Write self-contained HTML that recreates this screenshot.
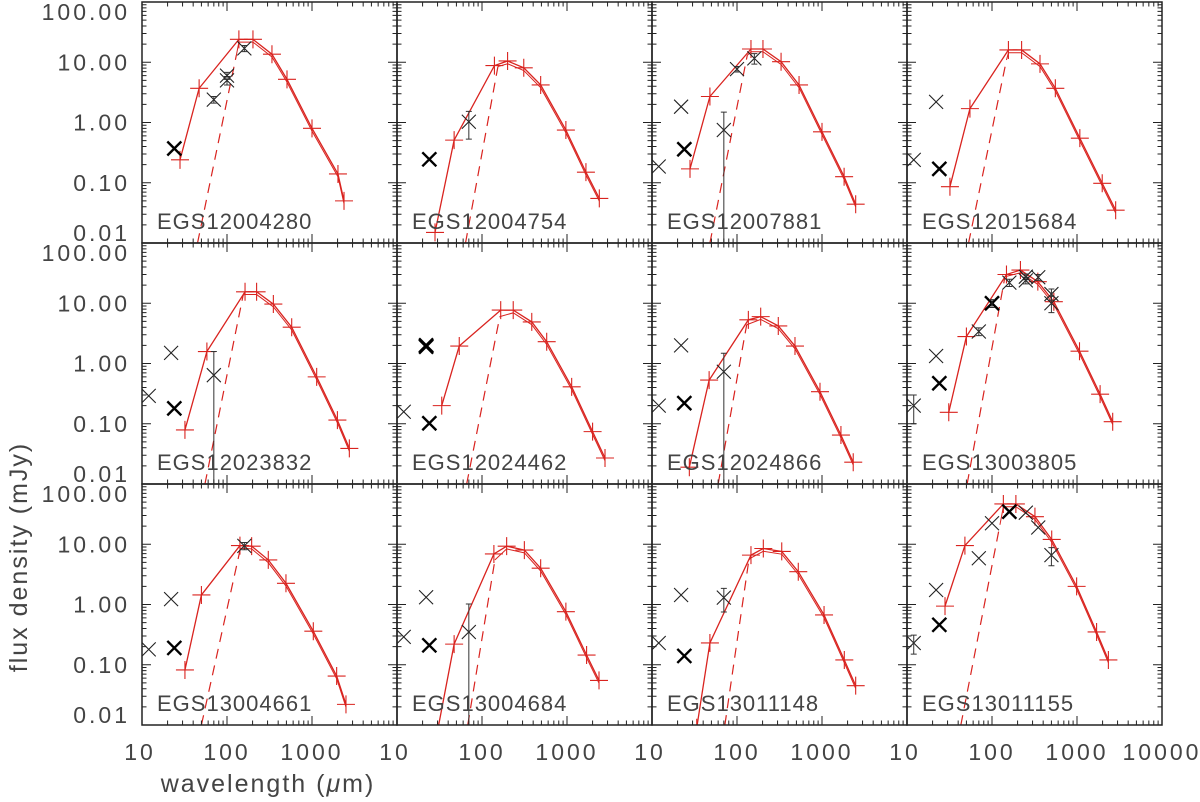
<!DOCTYPE html>
<html><head><meta charset="utf-8"><title>SED fits</title>
<style>
html,body{margin:0;padding:0;background:#fff;width:1200px;height:802px;overflow:hidden;}
svg{display:block;}
text{font-family:"Liberation Sans",sans-serif;fill:#444;}
</style></head>
<body>
<svg id="chart" width="1200" height="802" viewBox="0 0 1200 802" xmlns="http://www.w3.org/2000/svg"></svg>
<script>
// ---- data (wavelength in micron, flux density in mJy) ----
const panelNames = ["EGS12004280","EGS12004754","EGS12007881","EGS12015684",
  "EGS12023832","EGS12024462","EGS12024866","EGS13003805",
  "EGS13004661","EGS13004684","EGS13011148","EGS13011155"];
const modelLam = [
  [28,47,138,202,338,508,1000,2020,2380],
  [28,47,140,200,310,490,970,1670,2400],
  [28,48,146,202,330,537,1000,1820,2490],
  [32,55,156,223,367,556,1080,1980,2850],
  [32,58,163,223,351,577,1135,1990,2750],
  [33.6,54,166,233,385,577,1135,2000,2800],
  [27.5,47,136,190,306,481,947,1670,2330],
  [31,50,148,216,346,534,1070,1870,2630],
  [32,50,142,195,306,494,1036,1950,2510],
  [30,47,138,195,315,490,970,1700,2380],
  [33.6,48,146,204,336,526,1057,1830,2490],
  [28,48,136,191,320,504,990,1700,2340]];
const modelFlux = [
  [0.24,3.7,24,24,13.6,5.2,0.8,0.14,0.05],
  [0.015,0.51,8.8,10.5,8.1,4.2,0.75,0.15,0.055],
  [0.17,2.7,16.6,16.6,10.2,4.2,0.7,0.126,0.044],
  [0.086,1.7,16,16,9.4,3.7,0.55,0.098,0.035],
  [0.079,1.58,15.5,15.5,9.7,4.0,0.6,0.115,0.039],
  [0.2,1.95,7.7,7.7,4.9,2.3,0.41,0.074,0.027],
  [0.019,0.53,5.3,6.0,4.2,1.95,0.34,0.065,0.023],
  [0.155,2.8,30,35.6,22.8,10.6,1.6,0.31,0.108],
  [0.082,1.44,9.5,9.3,5.5,2.25,0.36,0.065,0.022],
  [0.008,0.22,6.9,9.3,8.0,4.0,0.76,0.145,0.055],
  [0.009,0.23,6.6,8.5,7.6,3.5,0.67,0.12,0.045],
  [0.94,9.5,46.6,46.6,28.7,12,2.0,0.35,0.12]];
const coldLam = [[45,129],[64,154],[48,132],[53,148],[55,155],[66,162],[60,130],[51,142],[50,144],[68,142],[72,138],[43,124]];
const coldFlux = [[0.01,13.2],[0.01,8.5],[0.01,13],[0.01,10.9],[0.01,13.7],[0.01,6.0],[0.01,4.4],[0.01,27.5],[0.01,8.6],[0.01,5.5],[0.01,5.5],[0.01,21]];
const obsLam = [
  [24,70,100,100,160],
  [24,70],
  [12,22,24,70,100,160],
  [12,22,24],
  [12,22,24,70],
  [12,22,22,24],
  [12,22,24,70],
  [12,22,24,70,100,160,250,250,350,500,500],
  [12,22,24,160],
  [12,22,24,70],
  [12,22,24,70],
  [12,22,24,70,100,160,250,350,500]];
const obsFlux = [
  [0.37,2.4,5.0,6.0,17],
  [0.245,1.03],
  [0.186,1.83,0.36,0.75,7.7,11.6],
  [0.24,2.2,0.17],
  [0.29,1.5,0.18,0.64],
  [0.158,1.9,2.0,0.102],
  [0.2,2.0,0.22,0.73],
  [0.2,1.33,0.47,3.4,10,22,27.6,24,27,14.2,10],
  [0.18,1.23,0.19,9.4],
  [0.29,1.32,0.21,0.35],
  [0.23,1.44,0.14,1.3],
  [0.23,1.74,0.46,5.85,22.3,34.7,33.4,19,6.6]];
const obsErr = [
  [0,0.3,0.8,0.8,2],
  [0,0.5],
  [0,0,0,0.74,0.8,2.3],
  [0,0,0],
  [0,0,0,0.94],
  [0,0,0,0],
  [0,0,0,0.75],
  [0.1,0,0,0.5,1.5,3,3,3,3,3,3],
  [0,0,0,1.3],
  [0,0,0,0.67],
  [0,0,0,0.55],
  [0.08,0,0,0,0,0,0,0,2.2]];
const obsBold = [
  [1,0,0,0,0],[1,0],[0,0,1,0,0,0],[0,0,1],[0,0,1,0],[0,1,1,1],[0,0,1,0],
  [0,0,1,0,1,0,0,0,0,0,0],[0,0,1,0],[0,0,1,0],[0,0,1,0],[0,0,1,0,0,1,0,0,0]];
const xTickLabels = ["10","100","1000"];
const yTickLabels = ["100.00","10.00","1.00","0.10","0.01"];

const NS = "http://www.w3.org/2000/svg";
const svg = document.getElementById("chart");
const PL = 142, PW = 255, PT = 2, PH = 241;
const XMIN = 1, XMAX = 4, YMIN = -2, YMAX = 2;
const RED = "#d9231f";
function mk(tag, attrs, parent){const e=document.createElementNS(NS,tag);for(const k in attrs)e.setAttribute(k,attrs[k]);(parent||svg).appendChild(e);return e;}
function xS(L,lam){return L+(Math.log10(lam)-XMIN)/(XMAX-XMIN)*PW;}
function yS(T,f){return T+(YMAX-Math.log10(f))/(YMAX-YMIN)*PH;}

const defs = mk("defs",{});
for(let p=0;p<12;p++){
  const col=p%4,row=Math.floor(p/4);
  const L=PL+col*PW, T=PT+row*PH;
  const cp=mk("clipPath",{id:"clip"+p},defs);
  mk("rect",{x:L,y:T,width:PW,height:PH},cp);
}

for(let p=0;p<12;p++){
  const col=p%4,row=Math.floor(p/4);
  const L=PL+col*PW, T=PT+row*PH;
  const g=mk("g",{});
  
  
  const inner=mk("g",{"clip-path":"url(#clip"+p+")"},g);
  const cl=coldLam[p], cf=coldFlux[p];
  const dash=mk("polyline",{points:cl.map((l,i)=>xS(L,l)+","+yS(T,cf[i])).join(" "),fill:"none",stroke:RED,"stroke-width":1.2,"stroke-dasharray":"10,7"},inner);
  
  
  const ml=modelLam[p], mf=modelFlux[p];
  const jl=cl[cl.length-1];
  const tail=[[jl,cf[cf.length-1]]];
  ml.forEach((l,i)=>{if(l>jl*1.05) tail.push([l,mf[i]*0.9]);});
  const tl=mk("polyline",{points:tail.map(d=>xS(L,d[0])+","+(yS(T,d[1]))).join(" "),fill:"none",stroke:RED,"stroke-width":1},inner);
  
  
  const ln=mk("polyline",{points:ml.map((l,i)=>xS(L,l)+","+yS(T,mf[i])).join(" "),fill:"none",stroke:RED,"stroke-width":1.3},inner);
  
  
  ml.forEach((l,i)=>{
    const x=xS(L,l),y=yS(T,mf[i]);
    const m=mk("path",{d:`M${x-9},${y}H${x+9}M${x},${y-9}V${y+9}`,stroke:RED,"stroke-width":1.1,fill:"none"},inner);
    
    
  });
  obsLam[p].forEach((l,i)=>{
    const x=xS(L,l),y=yS(T,obsFlux[p][i]);
    const b=obsBold[p][i], s=7;
    const o=mk("path",{d:`M${x-s},${y-s}L${x+s},${y+s}M${x-s},${y+s}L${x+s},${y-s}`,stroke:b?"#000":"#222","stroke-width":b?2.4:1.1,fill:"none"},inner);
    
    
    const e=obsErr[p][i];
    if(e>0){
      const f=obsFlux[p][i];
      const y1=yS(T,f+e), y2=yS(T,Math.max(f-e,0.005));
      const eb=mk("path",{d:`M${x},${y1}V${y2}M${x-3},${y1}H${x+3}M${x-3},${y2}H${x+3}`,stroke:"#333","stroke-width":1,fill:"none"},inner);
      
      
    }
  });
  const fr=mk("rect",{x:L,y:T,width:PW,height:PH,fill:"none",stroke:"#222","stroke-width":1.5},g);
  
  
  let d="";
  for(let dec=XMIN;dec<XMAX;dec++){for(let m=1;m<10;m++){const v=Math.pow(10,dec)*m;const x=xS(L,v);const len=m===1?9:4.5;if(m===1&&dec===XMIN)continue;d+=`M${x},${T+PH}v${-len}M${x},${T}v${len}`;}}
  for(let dec=YMIN;dec<YMAX;dec++){for(let m=1;m<10;m++){const v=Math.pow(10,dec)*m;const y=yS(T,v);const len=m===1?9:4.5;if(m===1&&dec===YMIN)continue;d+=`M${L},${y}h${len}M${L+PW},${y}h${-len}`;}}
  const tk=mk("path",{d:d,stroke:"#222","stroke-width":1,fill:"none"},g);
  
  
  const nm=mk("text",{x:L+15,y:T+227,"font-size":22,"letter-spacing":"1"},g);
  nm.textContent=panelNames[p];
  
  
  if(col===0){
    yTickLabels.forEach((t,k)=>{
      let yc=T+k*PH/4;
      if(k===0) yc=T+10; if(k===4) yc=T+PH-10;
      const tx=mk("text",{x:130,y:yc+8,"font-size":23,"text-anchor":"end","letter-spacing":"3"},g);
      tx.textContent=t;
      
      
    });
  }
  if(row===2){
    const labs=xTickLabels.slice(); if(col===3) labs.push("10000");
    labs.forEach((t,k)=>{
      const tx=mk("text",{x:L+k*PW/3+(k===0?-2:0),y:T+PH+35,"font-size":23,"text-anchor":"middle","letter-spacing":"3"},g);
      tx.textContent=t;
      
      
    });
  }
}
const xt=mk("text",{x:268,y:792,"font-size":25,"text-anchor":"middle","letter-spacing":"2"});
xt.innerHTML='wavelength (<tspan font-style="italic">μ</tspan>m)';


const yt=mk("text",{x:0,y:0,"font-size":25,"text-anchor":"middle","letter-spacing":"2",transform:"translate(27,557) rotate(-90)"});
yt.textContent="flux density (mJy)";


</script>
</body></html>
